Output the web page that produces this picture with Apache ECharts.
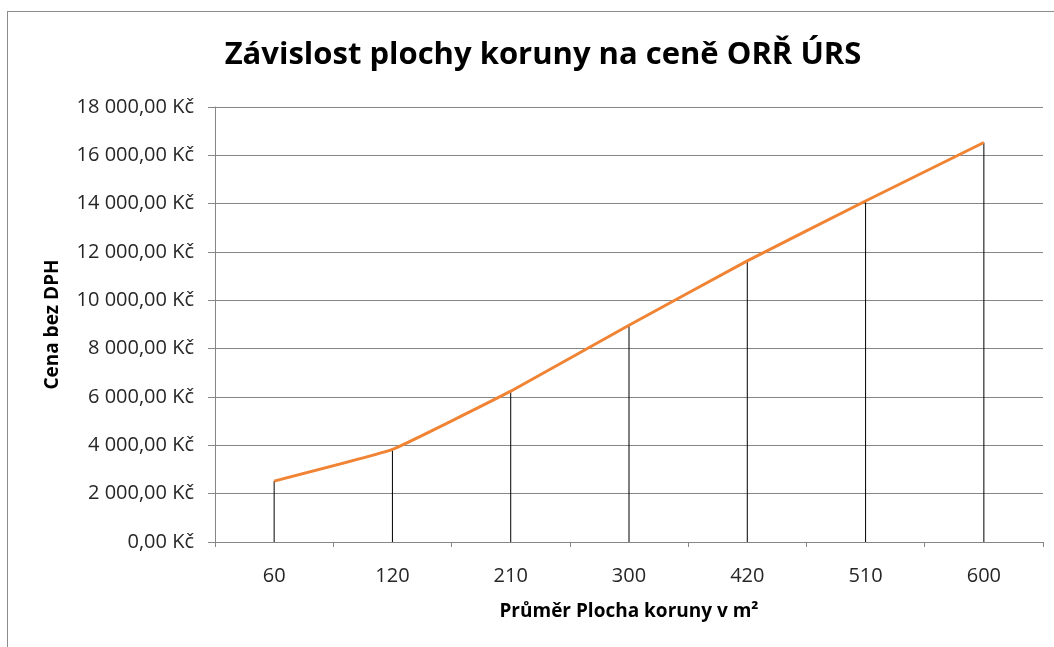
<!DOCTYPE html>
<html>
<head>
<meta charset="utf-8">
<script src="https://cdn.jsdelivr.net/npm/echarts@6/dist/echarts.min.js"></script>
<style>
  html, body { margin: 0; padding: 0; background: #fff; }
  #frame {
    position: absolute; left: 7px; top: 11px; width: 1100px; height: 700px;
    border: 1px solid #8c8c8c; box-sizing: border-box;
  }
  #chart { position: absolute; left: 0; top: 0; width: 1054px; height: 647px; }
</style>
</head>
<body>
<div id="frame"></div>
<div id="chart"></div>
<script>
// Závislost plochy koruny na ceně - čára + svislé spojnice k ose
const categories = ['60', '120', '210', '300', '420', '510', '600']
const prices = [2520, 3830, 6240, 8970, 11630, 14110, 16530]
const yTicks = { min: 0, max: 18000, interval: 2000 }

const font = '"Open Sans", "Noto Sans", sans-serif'

function formatKc(v) {
  const s = Math.round(v).toString().replace(/\B(?=(\d{3})+(?!\d))/g, ' ')
  return s + ',00 Kč'
}

const chart = echarts.init(document.getElementById('chart'), null, { renderer: 'canvas' })
chart.setOption({
  animation: false,
  title: {
    text: 'Závislost plochy koruny na ceně ORŘ ÚRS',
    left: 538,
    top: 35,
    textAlign: 'center',
    textStyle: { fontFamily: font, fontSize: 31, fontWeight: 'bold', color: '#000' }
  },
  grid: { left: 215, right: 11, top: 107, bottom: 105, containLabel: false },
  xAxis: {
    type: 'category',
    data: categories,
    name: 'Průměr Plocha koruny v m²',
    nameLocation: 'middle',
    nameGap: 60,
    nameTextStyle: { fontFamily: font, fontSize: 19, fontWeight: 'bold', color: '#000' },
    axisLine: { lineStyle: { color: '#868686', width: 1 } },
    axisTick: { show: true, length: 5, lineStyle: { color: '#868686' } },
    axisLabel: { fontFamily: font, fontSize: 20, color: '#262626', margin: 24 },
    splitLine: { show: false }
  },
  yAxis: {
    type: 'value',
    min: yTicks.min,
    max: yTicks.max,
    interval: yTicks.interval,
    name: 'Cena bez DPH',
    nameLocation: 'middle',
    nameGap: 153,
    nameRotate: 90,
    nameTextStyle: { fontFamily: font, fontSize: 19, fontWeight: 'bold', color: '#000' },
    axisLine: { show: true, lineStyle: { color: '#868686', width: 1 } },
    axisTick: { show: true, length: 7, lineStyle: { color: '#868686' } },
    axisLabel: { fontFamily: font, fontSize: 20, color: '#262626', margin: 21, formatter: formatKc },
    splitLine: { lineStyle: { color: '#868686', width: 1 } }
  },
  series: [
    {
      // svislé spojnice
      type: 'bar',
      data: prices,
      barWidth: 1,
      silent: true,
      z: 1,
      itemStyle: { color: '#000' }
    },
    {
      type: 'line',
      data: prices,
      smooth: 0.1,
      symbol: 'none',
      z: 3,
      lineStyle: { color: '#F08434', width: 3 }
    }
  ]
})
</script>
</body>
</html>
